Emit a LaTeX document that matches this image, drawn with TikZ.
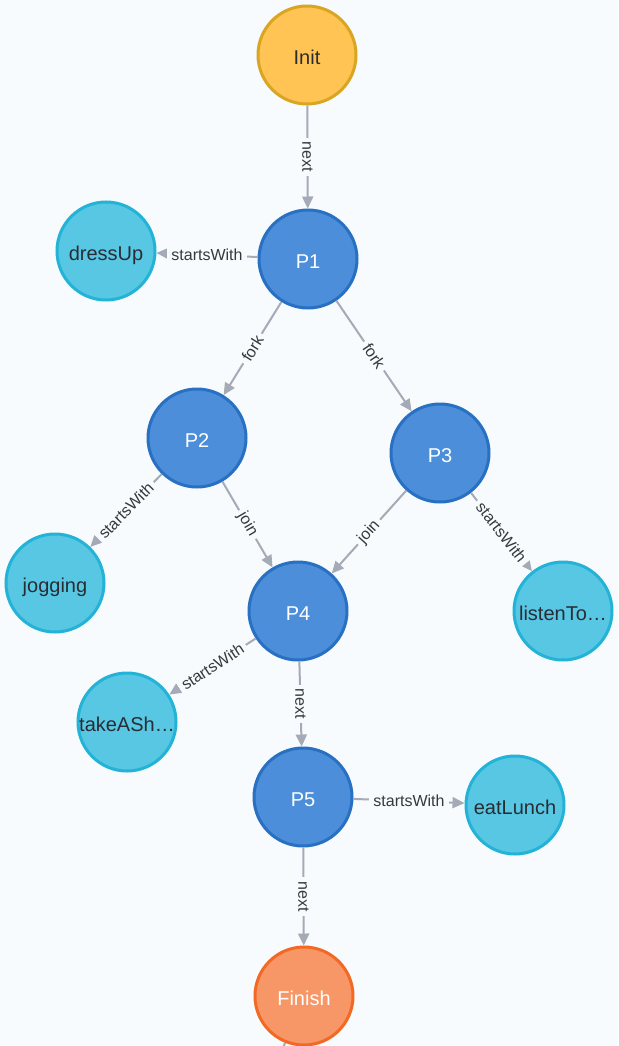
\documentclass[tikz,border=0pt]{standalone}
\usepackage{fontspec}
\setmainfont{Liberation Sans}
\usetikzlibrary{arrows.meta}

\definecolor{bg}{HTML}{F7FBFE}
\definecolor{edgegray}{HTML}{A5ABB6}
\definecolor{labeltext}{HTML}{35383E}
\definecolor{initfill}{HTML}{FFC454}
\definecolor{initline}{HTML}{DAA520}
\definecolor{stepfill}{HTML}{4C8EDA}
\definecolor{stepline}{HTML}{2870C2}
\definecolor{actfill}{HTML}{57C7E3}
\definecolor{actline}{HTML}{23B3D7}
\definecolor{endfill}{HTML}{F79767}
\definecolor{endline}{HTML}{F36924}
\definecolor{darktext}{HTML}{2A2C34}

\tikzset{
  base/.style={circle, minimum size=98pt, inner sep=0pt, line width=3pt,
    font=\fontsize{20}{22}\selectfont, text height=19pt, text depth=0pt},
  startnode/.style={base, fill=initfill, draw=initline, text=darktext},
  stepnode/.style={base, fill=stepfill, draw=stepline, text=white},
  actnode/.style={base, fill=actfill, draw=actline, text=darktext},
  endnode/.style={base, fill=endfill, draw=endline, text=white},
  rel/.style={draw=edgegray, line width=2pt, -{Triangle[length=12pt,width=11pt]}},
  lbl/.style={fill=bg, inner sep=4pt, text=labeltext,
    font=\fontsize{16}{18}\selectfont},
}

\begin{document}
\begin{tikzpicture}[x=1pt,y=-1pt]
  \fill[bg] (0,0) rectangle (618,1046);
  \useasboundingbox (0,0) rectangle (618,1046);
  \clip (0,0) rectangle (618,1046);

  % nodes
  \node[startnode] (init) at (307,55) {Init};
  \node[stepnode] (p1) at (308,259) {P1};
  \node[actnode] (dress) at (106,251) {dressUp};
  \node[stepnode] (p2) at (197,438) {P2};
  \node[stepnode] (p3) at (440,453) {P3};
  \node[actnode] (jog) at (55,583) {jogging};
  \node[stepnode] (p4) at (298,611) {P4};
  \node[actnode] (listen) at (563,611) {listenTo…};
  \node[actnode] (shower) at (127,722) {takeASh…};
  \node[stepnode] (p5) at (303,797) {P5};
  \node[actnode] (lunch) at (515,805) {eatLunch};
  \node[endnode] (finish) at (304,996) {Finish};
  \coordinate (away) at (266,1090);

  % relationships
  \draw[rel] (init) -- node[lbl,rotate=-90]{next} (p1);
  \draw[rel] (p1) -- node[lbl]{startsWith} (dress);
  \draw[rel] (p1) -- node[lbl,sloped]{fork} (p2);
  \draw[rel] (p1) -- node[lbl,sloped]{fork} (p3);
  \draw[rel] (p2) -- node[lbl,sloped]{startsWith} (jog);
  \draw[rel] (p2) -- node[lbl,sloped]{join} (p4);
  \draw[rel] (p3) -- node[lbl,sloped]{join} (p4);
  \draw[rel] (p3) -- node[lbl,sloped]{startsWith} (listen);
  \draw[rel] (p4) -- node[lbl,sloped]{startsWith} (shower);
  \draw[rel] (p4) -- node[lbl,rotate=-90]{next} (p5);
  \draw[rel] (p5) -- node[lbl]{startsWith} (lunch);
  \draw[rel] (p5) -- node[lbl,rotate=-90]{next} (finish);
  \draw[draw=edgegray, line width=2pt] (finish) -- (away);
\end{tikzpicture}
\end{document}
